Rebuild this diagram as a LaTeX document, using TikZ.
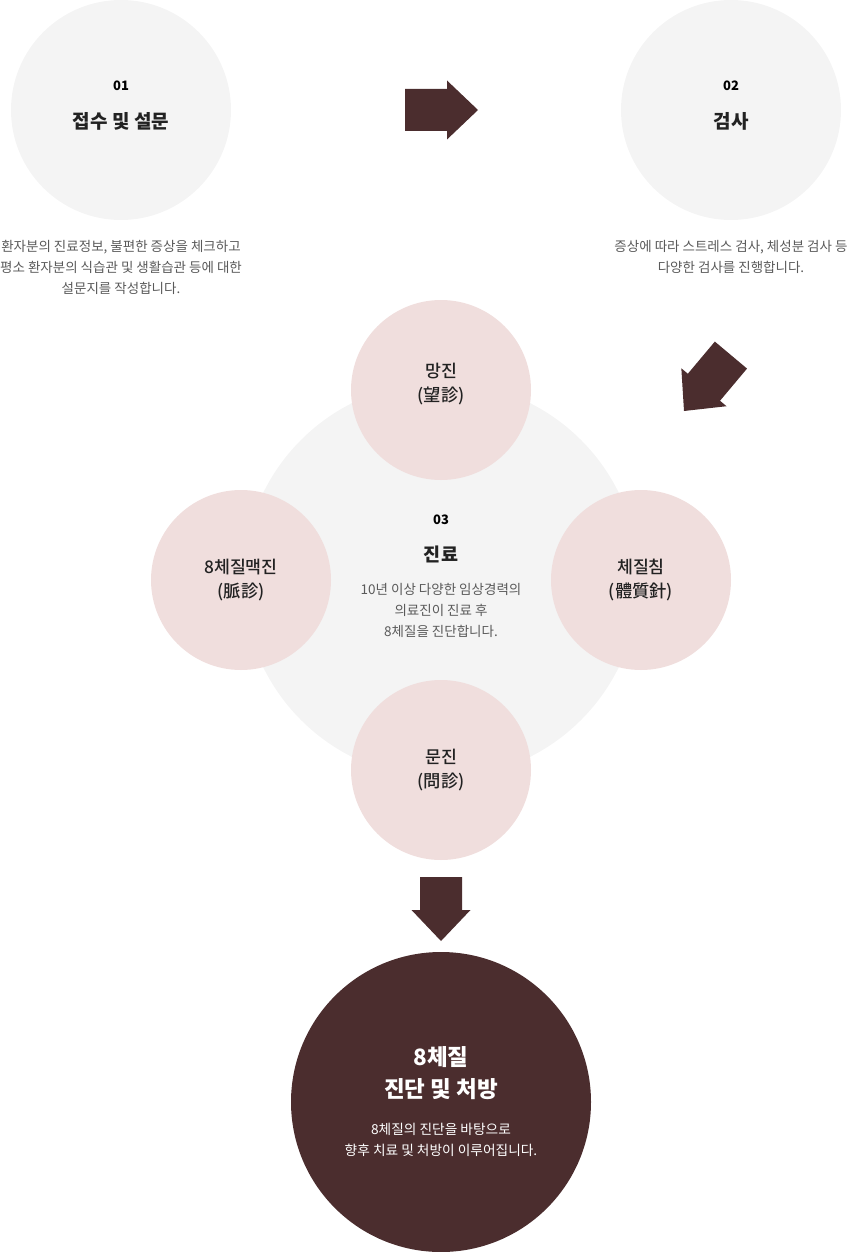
\documentclass[tikz,border=0pt]{standalone}
\usepackage{fontspec}
\setmainfont{Noto Sans CJK KR}
\newfontfamily\krmed{Noto Sans CJK KR Medium}
\definecolor{graybg}{HTML}{F4F4F4}
\definecolor{pinkbg}{HTML}{F0DEDD}
\definecolor{brown}{HTML}{4B2D2E}
\definecolor{txtdark}{HTML}{222222}
\definecolor{txtgray}{HTML}{5A5A5A}
\tikzset{
  graycirc/.style={circle,fill=graybg,inner sep=0pt,minimum size=#1},
  pinkcirc/.style={circle,fill=pinkbg,inner sep=0pt,minimum size=180pt,align=center,text=txtdark,font=\krmed\fontsize{17.3}{24}\selectfont},
  pinklabel/.style={align=center,text=txtdark,font=\krmed\fontsize{17.3}{24}\selectfont},
  num/.style={text=black,font=\bfseries\fontsize{13}{14}\selectfont},
  ttl/.style={text=txtdark,font=\bfseries\fontsize{19}{24}\selectfont},
  desc/.style={text=txtgray,align=center,font=\fontsize{13.5}{21}\selectfont},
  arrowfill/.style={fill=brown,draw=none},
}
\newcommand\bigarrowpath[2]{% body length, head length ; tip at origin pointing +x
  (0,0) -- (-#2,29.5) -- (-#2,21) -- (-#2-#1,21) -- (-#2-#1,-21) -- (-#2,-21) -- (-#2,-29.5) -- cycle}
\begin{document}
\begin{tikzpicture}[x=1pt,y=-1pt]
\useasboundingbox (0,0) rectangle (847,1252);
% step circles
\node[graycirc=220pt] (c1) at (121,110) {};
\node[graycirc=220pt] (c2) at (731,110) {};
\node[num] (n1) at (121,86) {01};
\node[ttl] (t1) at (121,121) {접수 및 설문};
\node[desc] (d1) at (121,267) {환자분의 진료정보, 불편한 증상을 체크하고\\평소 환자분의 식습관 및 생활습관 등에 대한\\설문지를 작성합니다.};
\node[num] (n2) at (731,86) {02};
\node[ttl] (t2) at (731,121) {검사};
\node[desc] (d2) at (731,257) {증상에 따라 스트레스 검사, 체성분 검사 등\\다양한 검사를 진행합니다.};
% arrows
\fill[arrowfill,shift={(478,110)}] \bigarrowpath{42}{31};
\fill[arrowfill,shift={(684,411)},rotate=-130] \bigarrowpath{42}{31};
\fill[arrowfill,shift={(441,941)},rotate=-90] \bigarrowpath{33}{31};
% central
\node[graycirc=396pt] (c3) at (441,580) {};
\node[pinkcirc] (p1) at (441,390) {};
\node[pinklabel] (p1t) at (441,384) {망진\\(望診)};
\node[pinkcirc] (p2) at (241,580) {8체질맥진\\(脈診)};
\node[pinkcirc] (p3) at (641,580) {체질침\\(體質針)};
\node[pinkcirc] (p4) at (441,770) {문진\\(問診)};
\node[num] (n3) at (441,520) {03};
\node[ttl,font=\bfseries\fontsize{18.5}{24}\selectfont] (t3) at (441,554) {진료};
\node[desc] (d3) at (441,610) {10년 이상 다양한 임상경력의\\의료진이 진료 후\\8체질을 진단합니다.};
% final
\node[circle,fill=brown,inner sep=0pt,minimum size=300pt] (c4) at (441,1102) {};
\node[text=white,align=center,font=\bfseries\fontsize{22.5}{32}\selectfont] (t4) at (441,1073) {8체질\\진단 및 처방};
\node[text=white,align=center,font=\fontsize{13.7}{21}\selectfont] (d4) at (441,1140) {8체질의 진단을 바탕으로\\향후 치료 및 처방이 이루어집니다.};
\end{tikzpicture}
\end{document}
